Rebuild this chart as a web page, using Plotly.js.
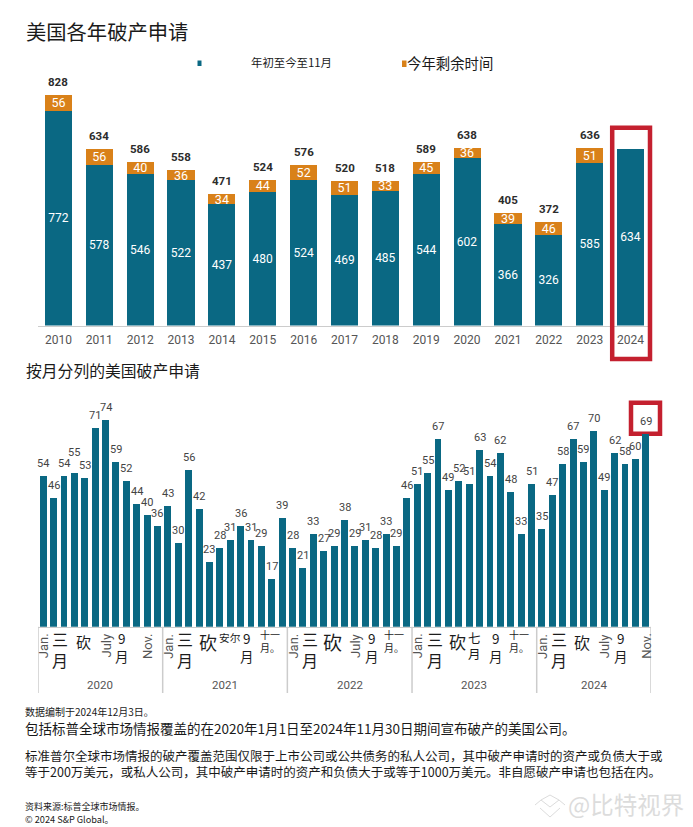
<!DOCTYPE html>
<html>
<head>
<meta charset="utf-8">
<script src="https://cdn.plot.ly/plotly-3.0.1.min.js"></script>
<style>html,body{margin:0;padding:0;background:#fff}#c{width:693px;height:827px}</style>
</head>
<body>
<div id="c"></div>
<script>
// ---- data ----
var years = ['2010','2011','2012','2013','2014','2015','2016','2017','2018','2019','2020','2021','2022','2023','2024'];
var ytdNov = [772,578,546,522,437,480,524,469,485,544,602,366,326,585,634];
var restOfYear = [56,56,40,36,34,44,52,51,33,45,36,39,46,51,null];
var yearTotals = [828,634,586,558,471,524,576,520,518,589,638,405,372,636,null];

var monthly2020 = [54,46,54,55,53,71,74,59,52,44,40,36];
var monthly2021 = [43,30,56,42,23,28,31,36,31,29,17,39];
var monthly2022 = [28,21,33,27,29,38,29,31,28,33,29,46];
var monthly2023 = [51,55,67,49,52,51,63,54,62,48,33,51];
var monthly2024 = [35,47,58,67,59,70,49,62,58,60,69];
var monthlyYears = ['2020','2021','2022','2023','2024'];

var title1 = '美国各年破产申请';
var title2 = '按月分列的美国破产申请';
var legend1 = '年初至今至11月';
var legend2 = '今年剩余时间';
// month tick labels, one list per year, every second month
var ticks2020 = ['Jan.','三<br>月','砍','July','9<br>月','Nov.'];
var ticks2021 = ['Jan.','三<br>月','砍','安尔','9<br>月','十一<br>月。'];
var ticks2022 = ['Jan.','三<br>月','砍','July','9<br>月','十一<br>月。'];
var ticks2023 = ['Jan.','三<br>月','砍','七<br>月','9<br>月','十一<br>月。'];
var ticks2024 = ['Jan.','三<br>月','砍','July','9<br>月','Nov.'];
var footnotes = [
  ['数据编制于2024年12月3日。', 711, 10],
  ['包括标普全球市场情报覆盖的在2020年1月1日至2024年11月30日期间宣布破产的美国公司。', 728, 13.5],
  ['标准普尔全球市场情报的破产覆盖范围仅限于上市公司或公共债务的私人公司，其中破产申请时的资产或负债大于或', 755, 12.5],
  ['等于200万美元，或私人公司，其中破产申请时的资产和负债大于或等于1000万美元。非自愿破产申请也包括在内。', 771, 12.5],
  ['资料来源:标普全球市场情报。', 806, 9],
  ['© 2024 S&P Global。', 819, 9.2]
];

// ---- styling ----
var W = 693, H = 827;
var TEAL = '#0a6883', ORANGE = '#d98119', RED = '#c4202f', GREY = '#cccccc';
var CJK = '"Noto Sans CJK SC", sans-serif';
var LAT = 'Roboto, "Noto Sans CJK SC", sans-serif';
function px(x){return x/W;}
function py(y){return 1-y/H;}

var monthly = monthly2020.concat(monthly2021, monthly2022, monthly2023, monthly2024);
var idx = monthly.map(function(_,i){return i;});

var traces = [
  {type:'bar', x:years, y:ytdNov, name:legend1, xaxis:'x', yaxis:'y', marker:{color:TEAL},
   text:ytdNov.map(String), textposition:'inside', insidetextanchor:'middle', constraintext:'none', textangle:0,
   textfont:{family:LAT,size:12,color:'#ffffff'}, hoverinfo:'x+y', cliponaxis:false},
  {type:'bar', x:years, y:restOfYear, name:legend2, xaxis:'x', yaxis:'y', marker:{color:ORANGE},
   text:restOfYear.map(function(v){return v===null?'':String(v);}), textposition:'inside', insidetextanchor:'middle', constraintext:'none', textangle:0,
   textfont:{family:LAT,size:12.5,color:'#ffffff'}, hoverinfo:'x+y', cliponaxis:false},
  {type:'bar', x:idx, y:monthly, name:'月度', xaxis:'x2', yaxis:'y2', marker:{color:TEAL}, hoverinfo:'y', cliponaxis:false}
];

var ann = [];
function text(t,x,y,size,color){
  ann.push({text:t, xref:'paper', yref:'paper', x:px(x), y:py(y), xanchor:'left', yanchor:'middle',
    borderpad:0, borderwidth:0, showarrow:false, font:{family:CJK,size:size,color:color||'#1a1a1a'}});
}
text(title1,26,31,20.3);
text(title2,26,371,15.8);
text(legend1,251,62,11.4);
text(legend2,407,62.5,14.4);
footnotes.forEach(function(f){ text(f[0],25,f[1],f[2]); });
text('@比特视界',568,804,23.5,'#dcdcdc');

// totals above the annual bars
years.forEach(function(y,i){
  if (yearTotals[i]===null) return;
  ann.push({text:String(yearTotals[i]), xref:'x', yref:'y', x:i, y:yearTotals[i], yshift:13, yanchor:'middle', xanchor:'center',
    showarrow:false, font:{family:LAT,size:11.5,color:'#2c2c2c',weight:700}});
});
// labels above the monthly bars
monthly.forEach(function(v,i){
  ann.push({text:String(v), xref:'x2', yref:'y2', x:i, y:v, yshift:(i===3?20:12.5), yanchor:'middle', xanchor:'center',
    showarrow:false, font:{family:LAT,size:11,color:'#444444'}});
});

// month tick labels
var allTicks = [ticks2020,ticks2021,ticks2022,ticks2023,ticks2024];
var kanSizes = [15,18,19,17,16];
allTicks.forEach(function(list,yi){
  list.forEach(function(t,mi){
    var i = yi*12 + mi*2;
    var latin = /^[A-Z]/.test(t);
    var a = {text:t, xref:'x2', yref:'paper', x:i, y:py(647), xanchor:'center', yanchor:'middle', showarrow:false,
      borderpad:0, borderwidth:0, font:{family:CJK,size:14,color:'#1c1c1c'}};
    if (latin) { a.textangle=-90; a.font={family:LAT,size:13,color:'#555555'}; a.y=py(646); }
    else if (t==='砍') { a.font.size=kanSizes[yi]; a.y=py(641.7); a.xshift=-1.5; }
    else if (t==='安尔') { a.font.size=10.7; a.y=py(637); }
    else if (t.indexOf('十一')===0) { a.font.size=10; a.y=py(640.5); a.xshift=-2; }
    else if (t.indexOf('三')===0) { a.font.size=16; a.xshift=-3.5; a.y=py(649); }
    else if (t.indexOf('七')===0) { a.font.size=12.5; a.y=py(645); a.xshift=-5; }
    else { a.font.size=13.5; a.xshift=-4; a.y=py(647); }
    ann.push(a);
  });
});
// year labels under the monthly axis
monthlyYears.forEach(function(y,yi){
  var last = yi===monthlyYears.length-1 ? 58 : yi*12+11;
  ann.push({text:y, xref:'x2', yref:'paper', x:(yi*12+last)/2, y:py(685), xanchor:'center', yanchor:'middle', showarrow:false,
    font:{family:LAT,size:11.5,color:'#555555'}});
});

function path(pts){
  return 'M'+pts.map(function(p){return px(p[0])+','+py(p[1]);}).join('L');
}
var shapes = [
  {type:'rect',xref:'paper',yref:'paper',x0:px(197.5),x1:px(201.5),y0:py(60.5),y1:py(66),fillcolor:TEAL,line:{width:0}},
  {type:'rect',xref:'paper',yref:'paper',x0:px(402),x1:px(406.5),y0:py(60.5),y1:py(67),fillcolor:ORANGE,line:{width:0}},
  {type:'rect',xref:'paper',yref:'paper',x0:px(612.2),x1:px(650),y0:py(127.7),y1:py(359),fillcolor:'rgba(0,0,0,0)',line:{color:RED,width:4.5}},
  {type:'rect',xref:'paper',yref:'paper',x0:px(631),x1:px(660),y0:py(402.7),y1:py(433.7),fillcolor:'#ffffff',line:{color:RED,width:4.5}, layer:'between'},
  // watermark emblem
  {type:'path',xref:'paper',yref:'paper',path:path([[535,805],[541,800],[550,807],[559,800],[565,805]]),line:{color:'#dcdcdc',width:1}},
  {type:'path',xref:'paper',yref:'paper',path:path([[541,800],[550,795],[559,800]]),line:{color:'#dcdcdc',width:1}},
  {type:'path',xref:'paper',yref:'paper',path:path([[540,808],[550,817],[560,808]]),line:{color:'#dcdcdc',width:1}}
];
[ -0.5, 11.5, 23.5, 35.5, 47.5, 58.5 ].forEach(function(x){
  shapes.push({type:'line',xref:'x2',yref:'paper',x0:x,x1:x,y0:py(626.7),y1:py(693),line:{color:GREY,width:1.5}});
});

var layout = {
  width:W, height:H, margin:{l:0,r:0,t:0,b:0}, paper_bgcolor:'#ffffff', plot_bgcolor:'rgba(0,0,0,0)',
  barmode:'stack', bargap:0.335, showlegend:false,
  xaxis:{domain:[px(38),px(651)], anchor:'y', type:'category', range:[-0.5,14.5], showgrid:false, zeroline:false,
    showline:true, linecolor:GREY, linewidth:1.5, ticks:'', tickfont:{family:LAT,size:12,color:'#555555'}, ticklen:0, ticklabelstandoff:3, automargin:false, fixedrange:true},
  yaxis:{domain:[py(325.5),py(85)], anchor:'x', range:[0,864], visible:false, fixedrange:true},
  xaxis2:{domain:[px(38),px(651)], anchor:'y2', range:[-0.5,58.5], showgrid:false, zeroline:false,
    showline:true, linecolor:GREY, linewidth:1.5, ticks:'', showticklabels:false, fixedrange:true},
  yaxis2:{domain:[py(626.7),py(405)], anchor:'x2', range:[0,79.2], visible:false, fixedrange:true},
  annotations:ann, shapes:shapes
};
Plotly.newPlot('c', traces, layout, {displayModeBar:false, staticPlot:true});
</script>
</body>
</html>
